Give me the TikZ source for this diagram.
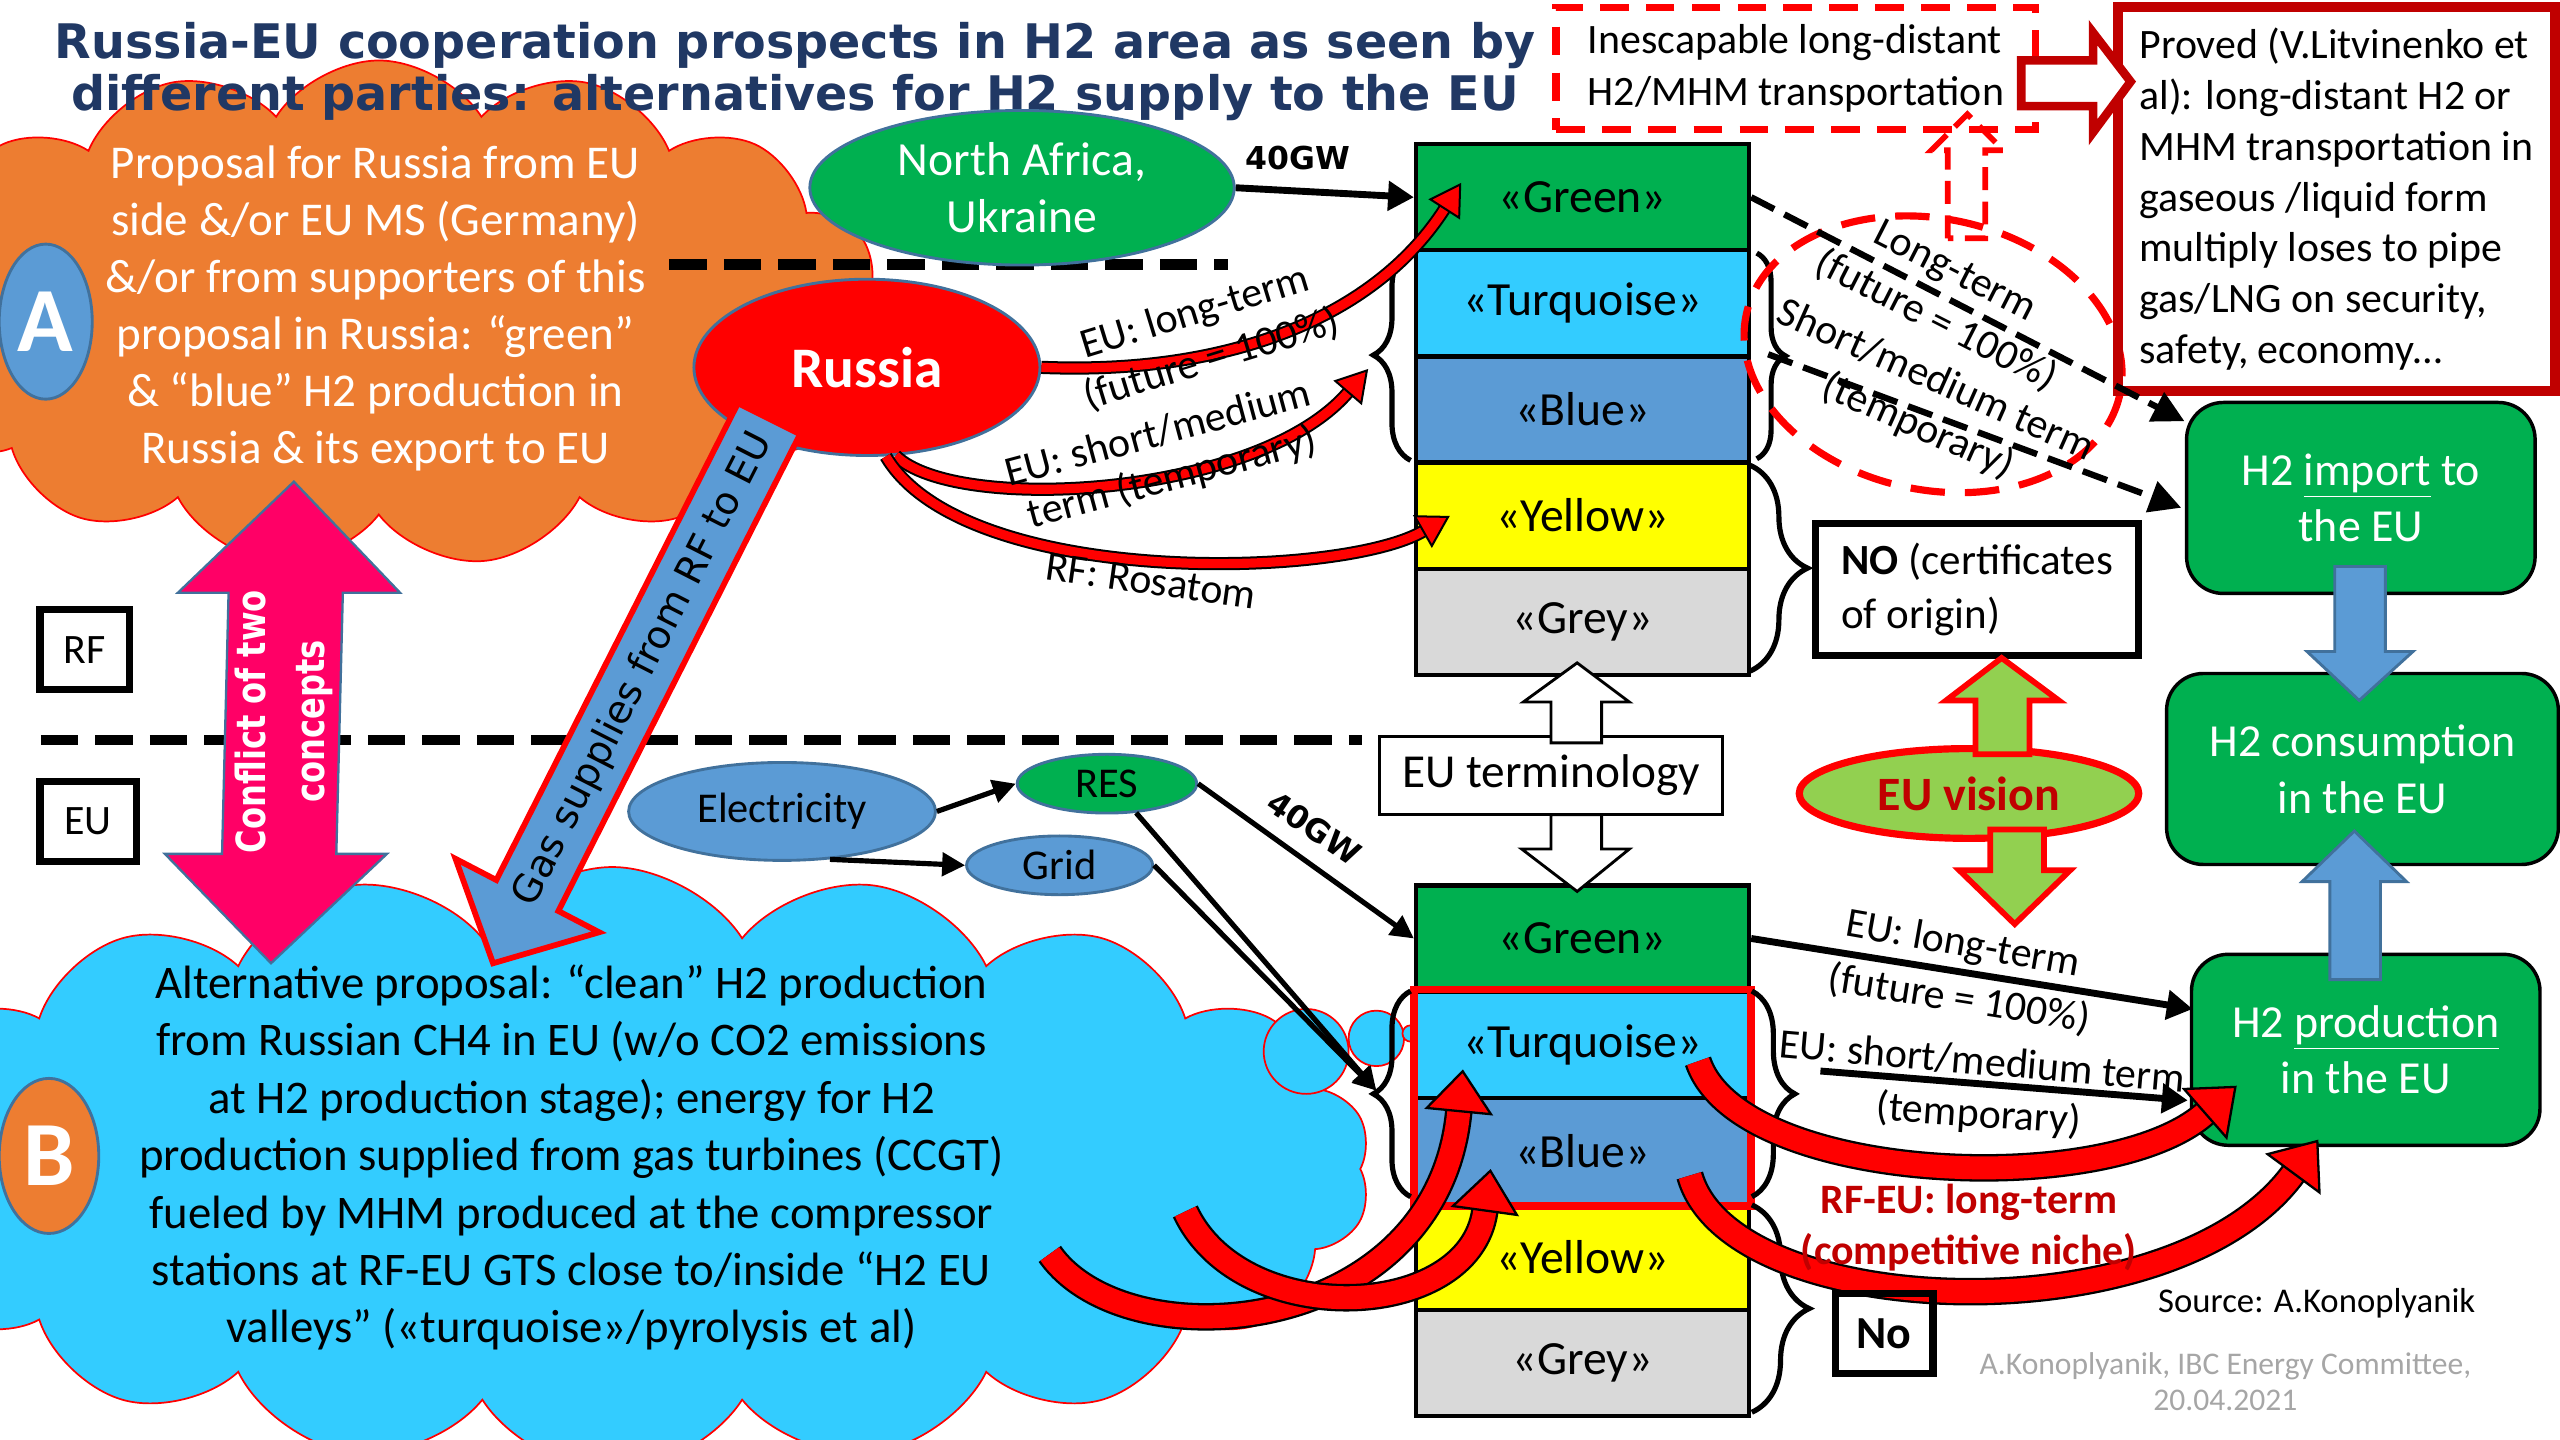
\documentclass[tikz,border=0pt]{standalone}
\usepackage{fontspec}
\setmainfont{Carlito}
\newfontfamily\verdana{DejaVu Sans}
\usetikzlibrary{
  calc, shapes, shapes.symbols, shapes.geometric, arrows.meta,
  decorations.pathreplacing
}
\definecolor{hGreen}{HTML}{00B050}
\definecolor{hTurq}{HTML}{33CCFF}
\definecolor{hBlue}{HTML}{5B9BD5}
\definecolor{hYellow}{HTML}{FFFF00}
\definecolor{hGrey}{HTML}{D9D9D9}
\definecolor{hOrange}{HTML}{ED7D31}
\definecolor{hPink}{HTML}{FF0066}
\definecolor{hNavy}{HTML}{203864}
\definecolor{hDred}{HTML}{C00000}
\definecolor{hLgreen}{HTML}{92D050}
\definecolor{hEdge}{HTML}{41719C}
\definecolor{hSign}{HTML}{A6A6A6}
\newcommand{\fsz}[2]{\fontsize{#1}{#2}\selectfont}

\begin{document}
\begin{tikzpicture}[x=0.02cm, y=-0.02cm]
            \tikzstyle{cell}=[draw=black, line width=1.5pt, minimum width=4.08cm, minimum height=1.3cm, inner sep=0pt, anchor=north west, font=\fsz{16.6}{20}]
            \tikzstyle{sepLine}=[line width=3.5pt, dash pattern=on 13pt off 6pt]
            \tikzstyle{lbl}=[inner sep=0pt, font=\fsz{14.6}{17.6}]
            \tikzstyle{bentArr}=[line width=0.7pt, double=red, double distance=3.2pt, -{Triangle[width=13pt,length=11pt,fill=red]}]
            \tikzstyle{bentArrW}=[line width=0.8pt, double=red, double distance=8pt, -{Triangle[width=24pt,length=15pt,fill=red]}]
            \tikzstyle{solArr}=[line width=2.4pt, -{Triangle[width=10pt,length=9pt]}]
            \tikzstyle{thinArr}=[line width=1.8pt, -{Triangle[width=8pt,length=8pt]}]
            \tikzstyle{dashArr}=[line width=2.2pt, dash pattern=on 9pt off 4pt, -{Triangle[width=11pt,length=11pt]}]
            \tikzstyle{eBox}=[draw=black, line width=1.2pt, fill=hGreen, rounded corners=0.45cm, minimum width=4.27cm, minimum height=2.34cm, text=white, align=center, font=\fsz{16}{19.8}]
            \tikzstyle{curly}=[line width=1.8pt, decorate]
            \tikzstyle{blockArr}=[fill=hBlue, draw=hEdge, line width=1pt]
            \tikzstyle{hollowArr}=[fill=white, draw=black, line width=1pt]
            \useasboundingbox (0,0) rectangle (1568,882);

            %%%%%%%%%%%%%%%%%%%%%%%%%%%%%%%%%%%%%%%% clouds
            \node[cloud, cloud puffs=15, cloud puff arc=115, cloud ignores aspect, fill=hOrange, draw=red, line width=0.6pt,
                  minimum width=12.4cm, minimum height=6.2cm] (cloudA) at (232,192) {};
            \node[cloud, cloud puffs=18, cloud puff arc=115, cloud ignores aspect, fill=hTurq, draw=red, line width=0.6pt,
                  minimum width=18.6cm, minimum height=7.4cm] (cloudB) at (375,716) {};
            \foreach \cx/\cy/\r in {800/644/26, 843/636/17, 864/633/5}
                \draw[fill=hTurq, draw=red, line width=0.6pt] (\cx,\cy) circle (\r);

            \node[font=\verdana\bfseries\fsz{16.6}{18.2}, text=hNavy, align=center] (title) at (487,44)
                {Russia-EU cooperation prospects in H2 area as seen by\\different parties: alternatives for H2 supply to the EU};

            \draw[sepLine] (410,162) -- (752,162);
            \draw[sepLine] (25,453) -- (834,453);

            \node[ellipse, fill=hBlue, draw=hEdge, line width=1pt, minimum width=1.14cm, minimum height=1.9cm, inner sep=0pt,
                  text=white, font=\bfseries\fsz{32}{32}] (circA) at (28,197) {A};
            \node[ellipse, fill=hOrange, draw=hEdge, line width=1pt, minimum width=1.22cm, minimum height=1.9cm, inner sep=0pt,
                  text=white, font=\bfseries\fsz{32}{32}] (circB) at (30,708) {B};
            \node[draw, line width=2.5pt, minimum width=1.1cm, minimum height=0.98cm, font=\fsz{14.6}{17}] (rfBox) at (52,398) {RF};
            \node[draw, line width=2.5pt, minimum width=1.18cm, minimum height=0.98cm, font=\fsz{14.6}{17}] (euBox) at (54,503) {EU};

            %%%%%%%%%%%%%%%%%%%%%%%%%%%%%%%%%%%%%%%% Russia, conflict, gas supplies
            \node[ellipse, fill=hGreen, draw=hEdge, line width=1pt, minimum width=5.2cm, minimum height=1.52cm,
                  text=white, align=center, font=\fsz{16.6}{19.8}] (naf) at (626,115) {North Africa,\\Ukraine};
            \node[ellipse, fill=red, draw=hEdge, line width=1pt, minimum width=4.24cm, minimum height=2.16cm,
                  text=white, font=\bfseries\fsz{20}{24}] (russia) at (531,225) {Russia};

            \draw[fill=hPink, draw=hEdge, line width=0.8pt] (180,295) -- (245,363) -- (210,363) -- (206,523) -- (237,523)
                -- (166,590) -- (101,523) -- (136,523) -- (140,363) -- (109,363) -- cycle;
            \node[rotate=90, text=white, align=center, font=\verdana\bfseries\fsz{14}{20.4}] (conflict) at (174,442)
                {\scalebox{0.8}[1]{Conflict of two}\\\scalebox{0.8}[1]{concepts}};

            \draw[fill=hBlue, draw=red, line width=2pt] (452,247) -- (490,266) -- (342,558) -- (367,571) -- (302,590)
                -- (279,526) -- (304,539) -- cycle;
            \node[rotate=63, font=\verdana\fsz{13.5}{16}] (gasTxt) at (394,410) {Gas supplies from RF to EU};

            \node[text=white, align=center, font=\fsz{16.4}{19.9}] (txtA) at (230,189)
                {Proposal for Russia from EU\\side \&/or EU MS (Germany)\\\&/or from supporters of this\\proposal in Russia: “green”\\\& “blue” H2 production in\\Russia \& its export to EU};
            \node[align=center, font=\fsz{16.3}{20}] (txtB) at (350,709)
                {Alternative proposal: “clean” H2 production\\from Russian CH4 in EU (w/o CO2 emissions\\at H2 production stage); energy for H2\\production supplied from gas turbines (CCGT)\\fueled by MHM produced at the compressor\\stations at RF-EU GTS close to/inside “H2 EU\\valleys” («turquoise»/pyrolysis et al)};

            %%%%%%%%%%%%%%%%%%%%%%%%%%%%%%%%%%%%%%%% colour stacks
            \foreach \nm/\col/\txt [count=\i from 0] in {Green/hGreen/Green, Turq/hTurq/Turquoise, Blue/hBlue/Blue, Yellow/hYellow/Yellow, Grey/hGrey/Grey}{
                \node[cell, fill=\col] (top\nm) at (866,87+65*\i) {«\txt»};
                \node[cell, fill=\col] (low\nm) at (866,541+65*\i) {«\txt»};
            }
            \draw[red, line width=2.6pt] (lowTurq.north west) rectangle (lowBlue.south east);

            \draw[curly, decoration={brace, amplitude=13pt}] (864,282) -- (864,153);
            \draw[curly, decoration={brace, amplitude=10pt}] (1076,155) -- (1076,281);
            \draw[curly, decoration={brace, amplitude=20pt}] (1072,285) -- (1072,411);
            \draw[curly, decoration={brace, amplitude=13pt}] (864,733) -- (864,607);
            \draw[curly, decoration={brace, amplitude=15pt}] (1073,607) -- (1073,733);
            \draw[curly, decoration={brace, amplitude=20pt}] (1073,738) -- (1073,865);

            %%%%%%%%%%%%%%%%%%%%%%%%%%%%%%%%%%%%%%%% top right: transport
            \draw[red, line width=2.5pt, dash pattern=on 12pt off 7pt, rotate around={-12:(1184,217)}] (1184,217) ellipse [x radius=117, y radius=83];
            \draw[red, line width=2pt, dash pattern=on 8pt off 4pt] (1193,146) -- (1193,92) -- (1183,92) -- (1205,70)
                -- (1227,92) -- (1216,92) -- (1216,146) -- cycle;
            \node[draw=red, line width=2.5pt, dash pattern=on 10pt off 6pt, minimum width=5.88cm, minimum height=1.5cm,
                  align=left, font=\fsz{14.6}{18.1}] (inesc) at (1100,42) {Inescapable long-distant\\H2/MHM transportation};
            \node[draw=hDred, line width=3.5pt, minimum width=5.36cm, minimum height=4.7cm, align=left,
                  font=\fsz{14.6}{17.7}] (proved) at (1431,122)
                {Proved (V.Litvinenko et\\al): long-distant H2 or\\MHM transportation in\\gaseous /liquid form\\multiply loses to pipe\\gas/LNG on security,\\safety, economy…};
            \draw[fill=white, draw=hDred, line width=3pt] (1238,37) -- (1282,37) -- (1282,20) -- (1305,50) -- (1282,81)
                -- (1282,65) -- (1238,65) -- cycle;

            \node[eBox] (imp) at (1446,305) {H2 \underline{import} to\\the EU};
            \node[eBox, minimum width=4.8cm] (cons) at (1447,471) {H2 consumption\\in the EU};
            \node[eBox] (prod) at (1449,643) {H2 \underline{production}\\in the EU};
            \draw[blockArr] (1430,347) -- (1461,347) -- (1461,399) -- (1478,399) -- (1445,429) -- (1413,399) -- (1430,399) -- cycle;
            \draw[blockArr] (1427,600) -- (1458,600) -- (1458,540) -- (1474,540) -- (1442,509) -- (1410,540) -- (1427,540) -- cycle;

            \coordinate (impIn1) at (1338,258);
            \coordinate (impIn2) at (1336,311);
            \draw[dashArr] (topGreen.east) -- (impIn1);
            \draw[dashArr] (1083,217) -- (impIn2);
            \node[lbl, rotate=-27] (lt1) at (1197,167) {Long-term};
            \node[lbl, rotate=-27] (lt2) at (1186,196) {(future = 100\%)};
            \node[lbl, rotate=-24] (st1) at (1186,232) {Short/medium term};
            \node[lbl, rotate=-24] (st2) at (1175,261) {(temporary)};

            %%%%%%%%%%%%%%%%%%%%%%%%%%%%%%%%%%%%%%%% EU vision, terminology
            \node[draw, line width=2.5pt, minimum width=3.96cm, minimum height=1.62cm, align=left, font=\fsz{15}{18.7}] (noBox) at (1211,361)
                {\textbf{NO} (certificates\\of origin)};
            \node[ellipse, fill=hLgreen, draw=red, line width=2.5pt, minimum width=4.16cm, minimum height=1.1cm,
                  text=hDred, font=\bfseries\fsz{16.7}{20}] (vision) at (1206,486) {EU vision};
            \draw[fill=hLgreen, draw=red, line width=2pt] (1210,462) -- (1210,429) -- (1192,429) -- (1226,403) -- (1261,429)
                -- (1243,429) -- (1243,462) -- cycle;
            \draw[fill=hLgreen, draw=red, line width=2pt] (1219,508) -- (1219,533) -- (1200,533) -- (1234,566) -- (1268,533)
                -- (1252,533) -- (1252,508) -- cycle;

            \node[draw, line width=1pt, minimum width=4.2cm, minimum height=0.96cm, font=\fsz{16.5}{20}] (term) at (950,475) {EU terminology};
            \draw[hollowArr] (950,455) -- (950,430) -- (933,430) -- (966,406) -- (998,430) -- (981,430) -- (981,455) -- cycle;
            \draw[hollowArr] (950,499) -- (950,520) -- (932,520) -- (966,546) -- (998,520) -- (981,520) -- (981,499) -- cycle;

            %%%%%%%%%%%%%%%%%%%%%%%%%%%%%%%%%%%%%%%% supply arrows
            \draw[solArr] (naf.east) -- (topGreen.west);
            \node[font=\verdana\bfseries\fsz{11}{13}] (gwTop) at (795,97) {40GW};

            \node[ellipse, fill=hBlue, draw=hEdge, line width=1pt, minimum width=3.76cm, minimum height=1.2cm, font=\fsz{14.8}{17}] (elec) at (479,497) {Electricity};
            \node[ellipse, fill=hGreen, draw=hEdge, line width=1pt, minimum width=2.2cm, minimum height=0.72cm, inner sep=0pt, font=\fsz{14.8}{17}] (res) at (678,480) {RES};
            \node[ellipse, fill=hBlue, draw=hEdge, line width=1pt, minimum width=2.28cm, minimum height=0.72cm, inner sep=0pt, font=\fsz{14.8}{17}] (grid) at (649,530) {Grid};
            \coordinate (lowTip) at (843,668);
            \draw[thinArr] (elec.east) -- (res.west);
            \draw[thinArr] (elec.-45) -- (grid.west);
            \draw[thinArr] (res.east) -- (lowGreen.west);
            \draw[thinArr] (res.-45) -- (lowTip);
            \draw[thinArr] (grid.east) -- (lowTip);
            \node[font=\verdana\bfseries\fsz{11}{13}, rotate=-34] (gwLow) at (805,507) {40GW};

            \coordinate (prodIn1) at (1343,618);
            \coordinate (prodIn2) at (1340,674);
            \draw[solArr] (lowGreen.east) -- (prodIn1);
            \draw[solArr] (1115,656) -- (prodIn2);
            \node[lbl, rotate=-10] (el1) at (1202,579) {EU: long-term};
            \node[lbl, rotate=-9] (el2) at (1200,612) {(future = 100\%)};
            \node[lbl, rotate=-5] (es1) at (1214,650) {EU: short/medium term};
            \node[lbl, rotate=-4] (es2) at (1212,683) {(temporary)};

            %%%%%%%%%%%%%%%%%%%%%%%%%%%%%%%%%%%%%%%% curved red arrows
            \coordinate (hitGreen) at (895,112);
            \coordinate (hitBrace) at (838,226);
            \coordinate (hitYellow) at (888,316);
            \draw[bentArr] (russia.east) .. controls (760,230) and (845,190) .. (hitGreen);
            \draw[bentArr] (russia.-72) .. controls (585,315) and (770,305) .. (hitBrace);
            \draw[bentArr] (russia.-78) .. controls (590,360) and (820,355) .. (hitYellow);
            \node[lbl, rotate=17] (ru1) at (732,192) {EU: long-term};
            \node[lbl, rotate=17] (ru2) at (742,220) {(future = 100\%)};
            \node[lbl, rotate=15] (ru3) at (709,265) {EU: short/medium};
            \node[lbl, rotate=15] (ru4) at (718,293) {term (temporary)};
            \node[lbl, rotate=-8] (ru5) at (705,356) {RF: Rosatom};

            \coordinate (hitTurq) at (896,655);
            \coordinate (hitBlue) at (913,716);
            \coordinate (hitProd1) at (1370,665);
            \coordinate (hitProd2) at (1420,698);
            \draw[bentArrW] (643,768) .. controls (690,835) and (880,820) .. (hitTurq);
            \draw[bentArrW] (726,742) .. controls (760,815) and (900,810) .. (hitBlue);
            \draw[bentArrW] (1040,650) .. controls (1065,725) and (1290,735) .. (hitProd1);
            \draw[bentArrW] (1035,720) .. controls (1060,810) and (1330,820) .. (hitProd2);
            \node[text=hDred, align=center, font=\bfseries\fsz{14.6}{18}] (niche) at (1206,752) {RF-EU: long-term\\(competitive niche)};

            %%%%%%%%%%%%%%%%%%%%%%%%%%%%%%%%%%%%%%%% footer
            \node[draw, line width=2.5pt, minimum width=1.2cm, minimum height=0.98cm, font=\bfseries\fsz{16}{19}] (noLow) at (1154,817) {No};
            \node[font=\fsz{12.1}{14.5}] (src) at (1419,798) {Source: A.Konoplyanik};
            \node[text=hSign, align=center, font=\fsz{11}{12.5}] (sign) at (1363,846) {A.Konoplyanik, IBC Energy Committee,\\20.04.2021};
        \end{tikzpicture}
\end{document}
